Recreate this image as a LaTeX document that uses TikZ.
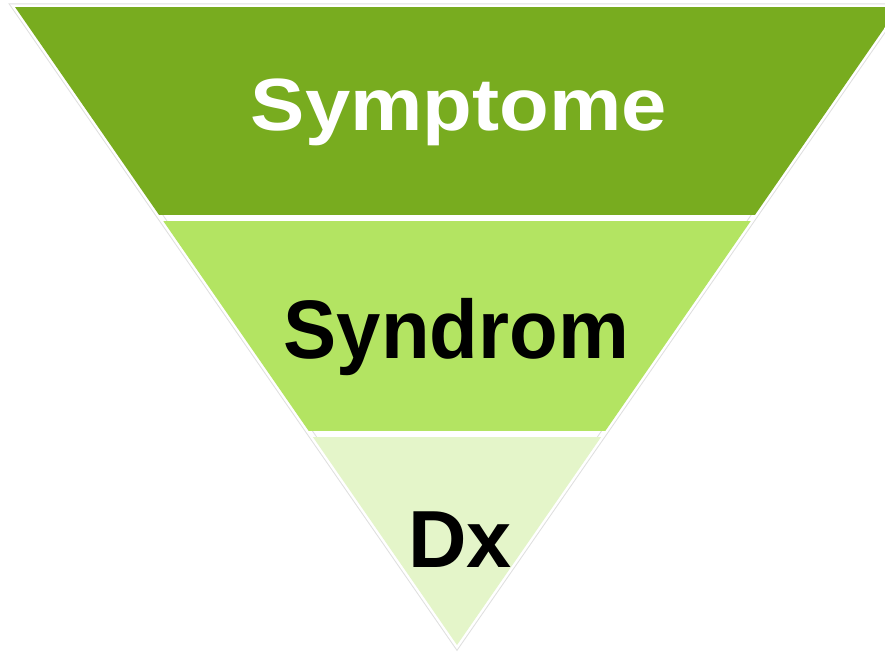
\documentclass[tikz,border=0pt]{standalone}
\usepackage{fontspec}
\setmainfont{Liberation Sans}
\definecolor{topgreen}{HTML}{78AC1F}
\definecolor{midgreen}{HTML}{B3E462}
\definecolor{lowgreen}{HTML}{E4F5C9}
\tikzset{
  label/.style={anchor=base, inner sep=0pt},
}
\begin{document}
\begin{tikzpicture}[x=1pt,y=-1pt]

            \useasboundingbox (0,0) rectangle (885,652);
            \clip (0,0) rectangle (885,652);

            \draw[gray!25, line width=7pt] (15,7) -- (899,7) -- (457,645) -- cycle;
            \draw[white, line width=5pt] (15,7) -- (899,7) -- (457,645) -- cycle;

            \begin{scope}
            \clip (15,7) -- (899,7) -- (457,645) -- cycle;
            \fill[topgreen] (0,7) rectangle (900,215);
            \fill[midgreen] (0,221) rectangle (900,431);
            \fill[lowgreen] (0,437) rectangle (900,650);
            \end{scope}

            \node[label, white, font=\fontsize{74}{74}\selectfont\bfseries, xscale=1.1] (symptome) at (459,131) {Symptome};
            \node[label, black, font=\fontsize{83}{83}\selectfont\bfseries, xscale=0.96] (syndrom) at (456.5,358) {Syndrom};
            \node[label, black, font=\fontsize{81}{81}\selectfont\bfseries] (dx) at (460,567) {Dx};

        \end{tikzpicture}
\end{document}
